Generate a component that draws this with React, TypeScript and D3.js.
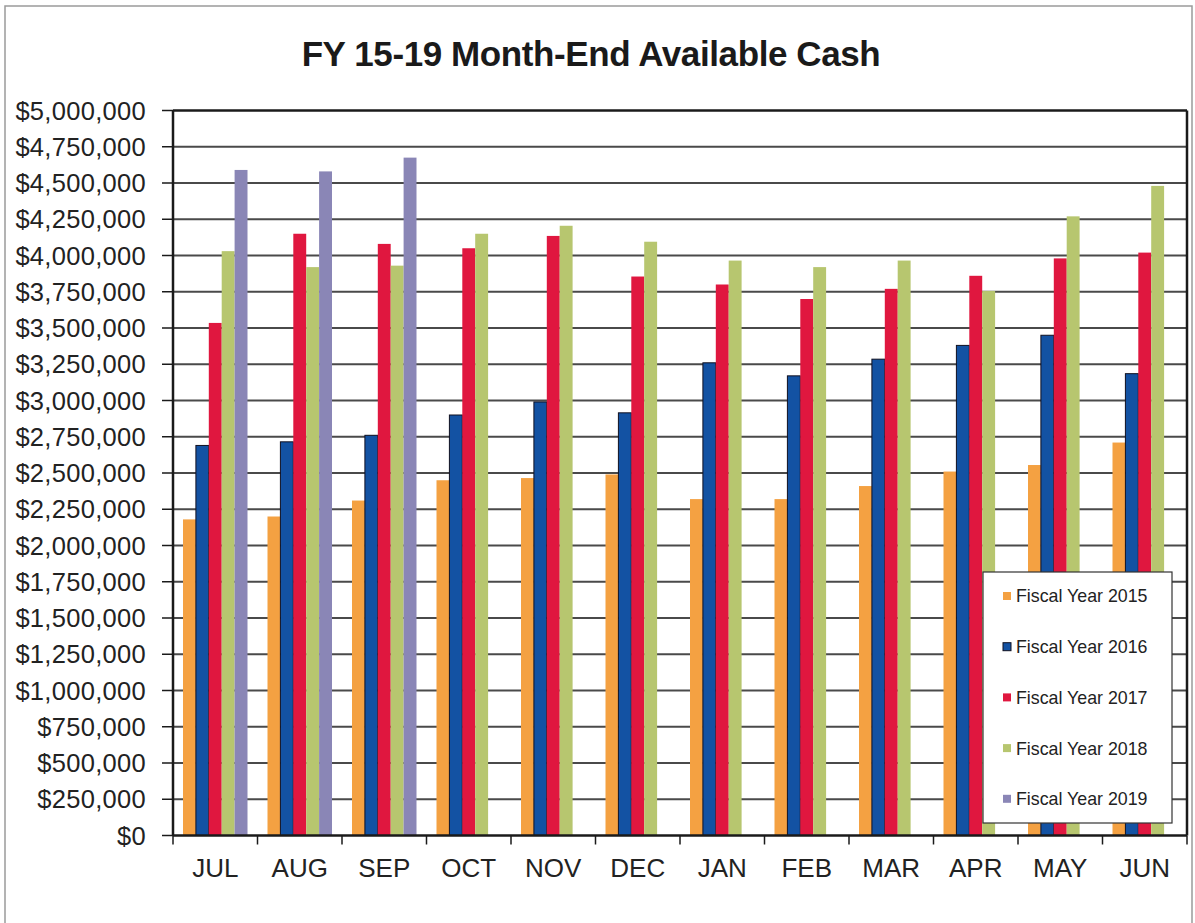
import React from "react";
import * as d3 from "d3";

const W = 1195;
const H = 923;

const months = ["JUL", "AUG", "SEP", "OCT", "NOV", "DEC", "JAN", "FEB", "MAR", "APR", "MAY", "JUN"];
const seriesNames = ["Fiscal Year 2015", "Fiscal Year 2016", "Fiscal Year 2017", "Fiscal Year 2018", "Fiscal Year 2019"];
const colors = ["#f4a142", "#1352a3", "#e0173f", "#b7c66f", "#8a86b6"];

const fy2015 = [2180000, 2200000, 2310000, 2450000, 2465000, 2490000, 2320000, 2320000, 2410000, 2510000, 2555000, 2710000];
const fy2016 = [2690000, 2715000, 2760000, 2900000, 2990000, 2915000, 3260000, 3170000, 3285000, 3380000, 3450000, 3185000];
const fy2017 = [3535000, 4150000, 4080000, 4050000, 4135000, 3855000, 3800000, 3700000, 3770000, 3860000, 3980000, 4020000];
const fy2018 = [4030000, 3920000, 3930000, 4150000, 4205000, 4095000, 3965000, 3920000, 3965000, 3755000, 4270000, 4480000];
const fy2019 = [4590000, 4580000, 4675000, null, null, null, null, null, null, null, null, null];

const series = [fy2015, fy2016, fy2017, fy2018, fy2019];
const yTicks = d3.range(0, 5000001, 250000);

const FONT = "'Liberation Sans', Arial, Helvetica, sans-serif";

const left = 173;
const right = 1187;
const top = 110.5;
const bottom = 835.5;

const App = () => {
  const x = d3.scaleBand<string>().domain(months).range([left, right]).padding(0);
  const inner = d3
    .scaleBand<number>()
    .domain(d3.range(series.length))
    .range([10, x.bandwidth() - 10])
    .padding(0);
  const y = d3.scaleLinear().domain([0, 5000000]).range([bottom, top]);
  const fmt = (v: number) => "$" + d3.format(",")(v);

  return (
    <svg width={W} height={H} style={{ position: "absolute", left: 0, top: 0, background: "#fff" }}>
      {/* outer frame */}
      <rect x={5} y={6} width={1187} height={H} fill="none" stroke="#9a9a9a" strokeWidth={1.5} />

      <text
        x={591}
        y={66}
        textAnchor="middle"
        fontFamily={FONT}
        fontWeight="bold"
        fontSize={35}
        letterSpacing={-0.4}
        fill="#1a1a1a"
      >
        FY 15-19 Month-End Available Cash
      </text>

      {/* gridlines */}
      {yTicks.slice(1, -1).map((t) => (
        <line key={t} x1={left} x2={right} y1={y(t)} y2={y(t)} stroke="#4a4a4a" strokeWidth={1.8} />
      ))}

      {/* bars */}
      {series.map((vals, si) =>
        vals.map((v, mi) =>
          v == null ? null : (
            <rect
              key={`${si}-${mi}`}
              x={(x(months[mi]) ?? 0) + (inner(si) ?? 0)}
              y={y(v)}
              width={inner.bandwidth()}
              height={y(0) - y(v)}
              fill={colors[si]}
              stroke={si === 1 ? "#101020" : "none"}
              strokeWidth={1}
            />
          )
        )
      )}

      {/* plot frame */}
      <line x1={left} x2={right} y1={top} y2={top} stroke="#1a1a1a" strokeWidth={2.5} />
      <line x1={right} x2={right} y1={top} y2={bottom} stroke="#1a1a1a" strokeWidth={2.5} />
      <line x1={left} x2={left} y1={top} y2={bottom} stroke="#1a1a1a" strokeWidth={2.5} />
      <line x1={left} x2={right} y1={bottom} y2={bottom} stroke="#1a1a1a" strokeWidth={2.5} />

      {/* y axis ticks and labels */}
      {yTicks.map((t) => (
        <g key={t}>
          <line x1={162} x2={left} y1={y(t)} y2={y(t)} stroke="#1a1a1a" strokeWidth={1.5} />
          <text
            x={146}
            y={y(t)}
            dy="0.36em"
            textAnchor="end"
            fontFamily={FONT}
            fontSize={25.5}
            letterSpacing={0.3}
            fill="#222"
          >
            {fmt(t)}
          </text>
        </g>
      ))}

      {/* x axis ticks and labels */}
      {months.map((m) => (
        <g key={m}>
          <line x1={x(m)} x2={x(m)} y1={bottom} y2={bottom + 9} stroke="#1a1a1a" strokeWidth={1.5} />
          <text
            x={(x(m) ?? 0) + x.bandwidth() / 2}
            y={877}
            textAnchor="middle"
            fontFamily={FONT}
            fontSize={26}
            fill="#222"
          >
            {m}
          </text>
        </g>
      ))}
      <line x1={right} x2={right} y1={bottom} y2={bottom + 9} stroke="#1a1a1a" strokeWidth={1.5} />

      {/* legend */}
      <g>
        <rect x={983} y={572} width={189} height={251} fill="#fff" stroke="#333" strokeWidth={1.2} />
        {seriesNames.map((name, i) => (
          <g key={name} transform={`translate(1003, ${596 + i * 50.7})`}>
            <rect
              x={0}
              y={-4}
              width={8}
              height={8}
              fill={colors[i]}
              stroke={i === 1 ? "#101020" : "none"}
            />
            <text x={13} y={0} dy="0.36em" fontFamily={FONT} fontSize={17.8} fill="#222">
              {name}
            </text>
          </g>
        ))}
      </g>
    </svg>
  );
};

export default App;
